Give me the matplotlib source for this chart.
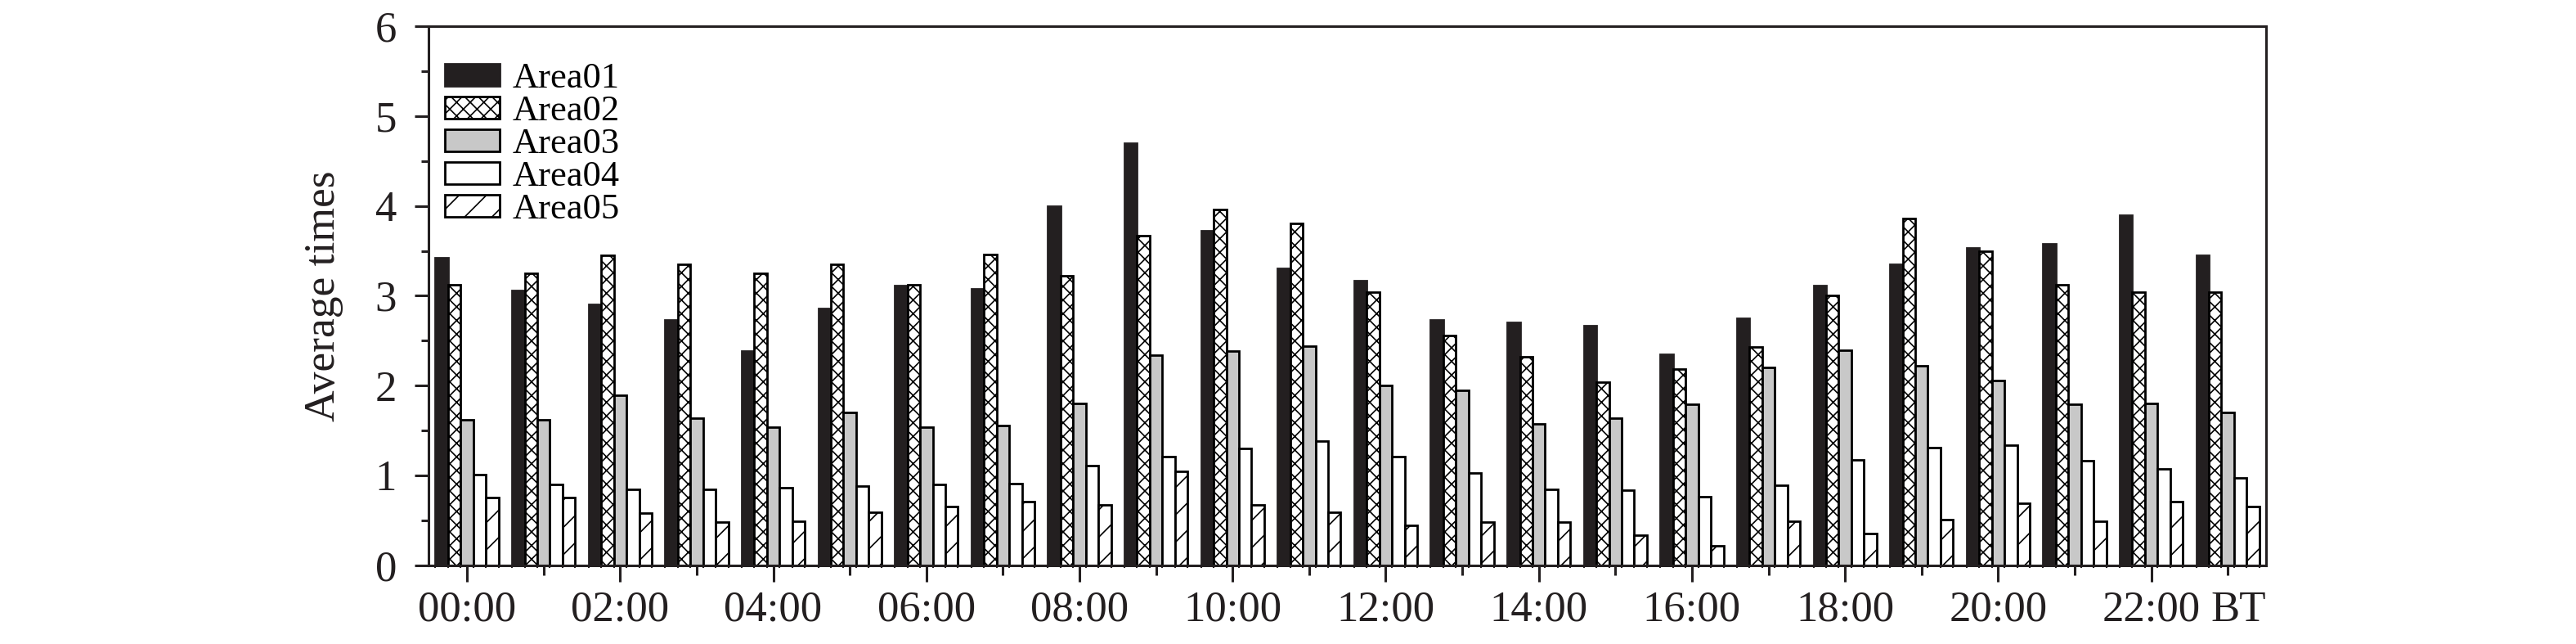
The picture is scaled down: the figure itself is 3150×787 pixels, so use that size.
import matplotlib
matplotlib.use('Agg')
import matplotlib.pyplot as plt
from matplotlib.ticker import MultipleLocator
import numpy as np

# ---------------- data ----------------
hours = [f"{h:02d}:00" for h in range(24)]
area01 = [3.42, 3.06, 2.90, 2.73, 2.38, 2.86, 3.11, 3.08, 4.00, 4.70, 3.72, 3.30,
          3.17, 2.73, 2.70, 2.67, 2.35, 2.75, 3.11, 3.35, 3.53, 3.58, 3.90, 3.45]
area02 = [3.12, 3.25, 3.45, 3.35, 3.25, 3.35, 3.12, 3.46, 3.22, 3.67, 3.96, 3.81,
          3.04, 2.56, 2.32, 2.04, 2.18, 2.43, 3.00, 3.86, 3.50, 3.12, 3.04, 3.04]
area03 = [1.62, 1.62, 1.89, 1.64, 1.54, 1.70, 1.54, 1.55, 1.80, 2.34, 2.38, 2.44,
          2.00, 1.95, 1.57, 1.64, 1.79, 2.20, 2.39, 2.22, 2.06, 1.79, 1.80, 1.70]
area04 = [1.01, 0.90, 0.84, 0.84, 0.86, 0.88, 0.90, 0.91, 1.11, 1.21, 1.30, 1.38,
          1.21, 1.03, 0.84, 0.83, 0.76, 0.89, 1.17, 1.31, 1.34, 1.16, 1.07, 0.97]
area05 = [0.75, 0.75, 0.58, 0.48, 0.49, 0.59, 0.65, 0.71, 0.67, 1.04, 0.67, 0.59,
          0.44, 0.48, 0.48, 0.33, 0.21, 0.49, 0.35, 0.51, 0.69, 0.49, 0.71, 0.65]
labels = ["Area01", "Area02", "Area03", "Area04", "Area05"]

# ---------------- style ----------------
plt.rcParams['font.family'] = ['Liberation Serif', 'DejaVu Serif']
plt.rcParams['hatch.linewidth'] = 1.2
plt.rcParams['hatch.color'] = 'black'

W, H = 3150, 787
fig = plt.figure(figsize=(W / 100, H / 100), dpi=100)
ax = fig.add_axes([524.3 / W, 1 - 690.5 / H, (2771 - 524.3) / W, (690.5 - 32.3) / H])

x = np.arange(len(hours))
w = 0.165
styles = [
    dict(color='#231f20', edgecolor='#231f20', hatch=''),
    dict(color='white', edgecolor='black', hatch='xx'),
    dict(color='#c8c8c8', edgecolor='black', hatch=''),
    dict(color='white', edgecolor='black', hatch=''),
    dict(color='white', edgecolor='black', hatch='/'),
]
for k, (vals, lab, st) in enumerate(zip([area01, area02, area03, area04, area05], labels, styles)):
    ax.bar(x + (k - 2) * w, vals, w, label=lab, linewidth=2.0, **st)

ax.set_xlim(-0.5, len(hours) - 0.5)
ax.set_ylim(0, 6)
ax.set_yticks(range(0, 7))
ax.yaxis.set_minor_locator(MultipleLocator(0.5))

ax.set_xticks(x)
ax.set_xticklabels([h if i % 2 == 0 else '' for i, h in enumerate(hours)])
edges = sorted(set(np.round(np.concatenate([x + (k - 2.5) * w for k in range(6)]), 4)))
ax.set_xticks(edges, minor=True)

for s in ax.spines.values():
    s.set_linewidth(2.2)
    s.set_color('#231f20')

ax.tick_params(axis='both', which='both', direction='out', width=2.2, colors='#231f20',
               labelsize=38, top=False, right=False)
ax.tick_params(axis='x', which='major', length=14.4, pad=8)
ax.tick_params(axis='x', which='minor', length=2.3, width=1.5)
ax.tick_params(axis='y', which='major', length=12.2, pad=16)
ax.tick_params(axis='y', which='minor', length=6.5)
for lbl in ax.get_xticklabels() + ax.get_yticklabels():
    lbl.set_color('#231f20')

for i, t in enumerate(ax.xaxis.get_major_ticks()):
    if i % 2 == 1:
        t.tick1line.set_markersize(8.4)

ax.annotate('BT', xy=(1, 0), xycoords='axes fraction', xytext=(0, -(14.4 + 8)),
            textcoords='offset points', ha='right', va='top', fontsize=38, color='#231f20')

ax.set_ylabel('Average times', fontsize=38.5, color='#231f20')
ax.yaxis.set_label_coords(-0.0464, 0.5)

ax.legend(loc='upper left', bbox_to_anchor=(544 / W, 1 - 76 / H), bbox_transform=fig.transFigure,
          frameon=False, fontsize=32, handlelength=1.5, handleheight=0.55, handletextpad=0.35,
          labelspacing=0.0, borderpad=0, borderaxespad=0)

fig.savefig('out.png', dpi=100)
